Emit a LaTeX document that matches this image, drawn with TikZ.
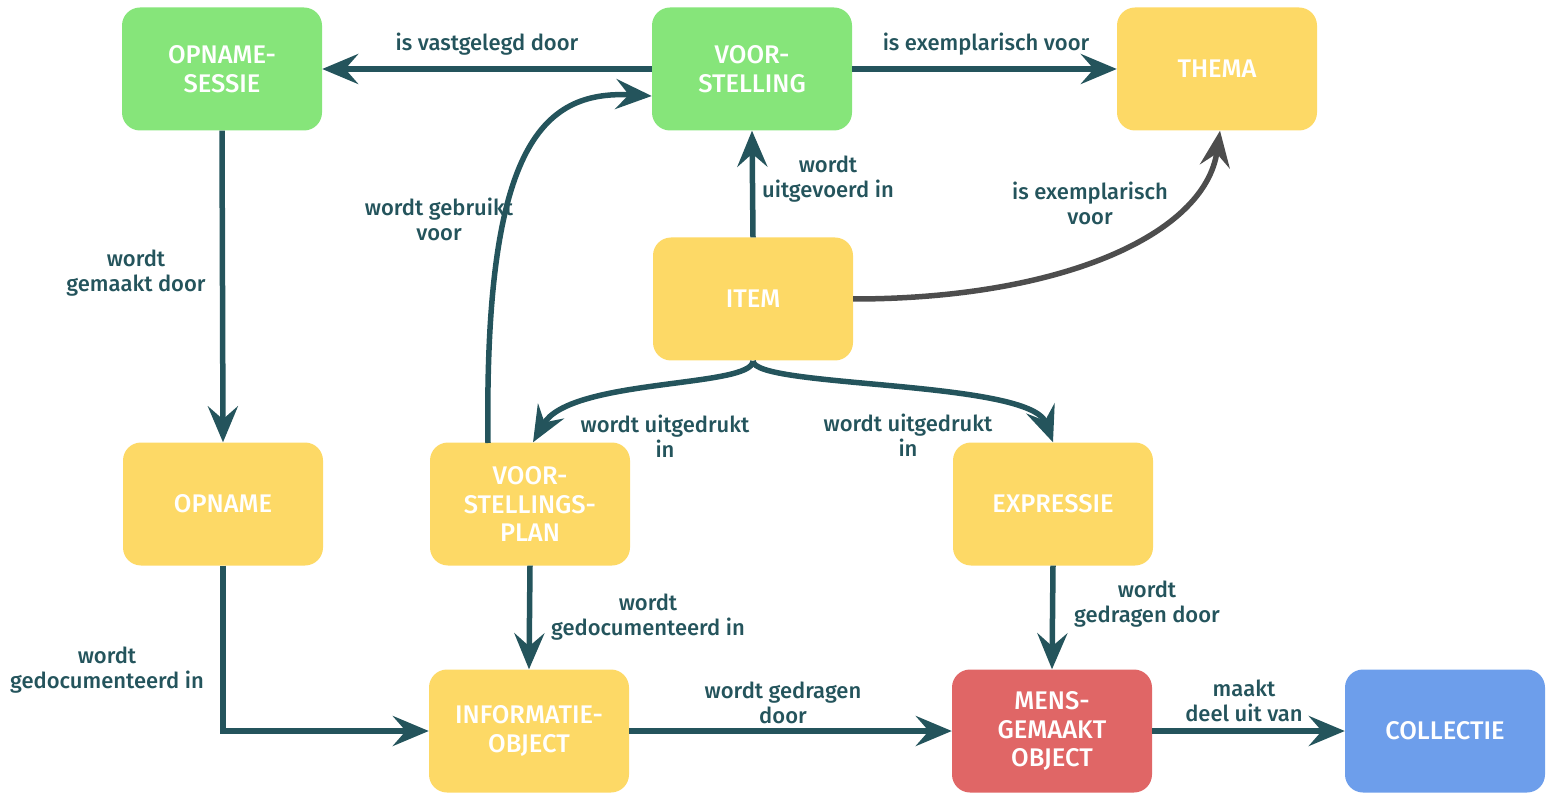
\documentclass[tikz,border=0pt]{standalone}
\usepackage{fontspec}
\setmainfont{Fira Sans}[UprightFont=* Medium, BoldFont=* SemiBold]
\usetikzlibrary{arrows.meta}
\definecolor{cgreen}{HTML}{86E57A}
\definecolor{cyellow}{HTML}{FDD966}
\definecolor{cred}{HTML}{E06666}
\definecolor{cblue}{HTML}{6D9EEB}
\definecolor{cteal}{HTML}{24545C}
\definecolor{cgray}{HTML}{4D4D4D}
\tikzset{
  box/.style={rounded corners=18pt, minimum width=200pt, minimum height=123pt, align=center, text=white, inner sep=0pt,
    font=\fontsize{25.5pt}{28.5pt}\selectfont},
  conn/.style={line width=5.5pt, draw=cteal, -{Stealth[length=36pt,width=30pt,inset=13pt]}},
  gconn/.style={conn, draw=cgray},
  lbl/.style={text=cteal, align=center, font=\fontsize{22pt}{25pt}\selectfont}
}
\begin{document}
\begin{tikzpicture}[x=1pt,y=-1pt]
\useasboundingbox (0,0) rectangle (1548,794);
% nodes
\node[box, fill=cgreen] (sess) at (222,69) {OPNAME-\\SESSIE};
\node[box, fill=cgreen] (vs) at (752,69) {VOOR-\\STELLING};
\node[box, fill=cyellow] (thema) at (1217,69) {THEMA};
\node[box, fill=cyellow] (item) at (753,299) {ITEM};
\node[box, fill=cyellow] (opname) at (223,504) {OPNAME};
\node[box, fill=cyellow] (vsplan) at (530,504) {VOOR-\\STELLINGS-\\PLAN};
\node[box, fill=cyellow] (expr) at (1053,504) {EXPRESSIE};
\node[box, fill=cyellow] (info) at (529,731) {INFORMATIE-\\OBJECT};
\node[box, fill=cred] (mens) at (1052,731) {MENS-\\GEMAAKT\\OBJECT};
\node[box, fill=cblue] (coll) at (1445,731) {COLLECTIE};
% coordinates
\coordinate (itemb) at (753,361);
\coordinate (vsplant) at (488,443);
% connectors
\draw[conn] (vs.west) -- (sess.east);
\draw[conn] (vs.east) -- (thema.west);
\draw[conn] (item.north) -- (vs.south);
\draw[gconn] (item.east) .. controls (1060,299) and (1205,235) .. ([xshift=3pt]thema.south);
\draw[conn] (sess.south) -- (opname.north);
\draw[conn] (vsplant) .. controls (484,150) and (540,90) .. ([yshift=-27pt]vs.west);
\draw[conn] (itemb) .. controls (752,388) and (570,378) .. ([xshift=3pt]vsplan.north);
\draw[conn] (itemb) .. controls (754,388) and (1030,380) .. (expr.north);
\draw[conn] (vsplan.south) -- (info.north);
\draw[conn] (opname.south) |- (info.west);
\draw[conn] (info.east) -- (mens.west);
\draw[conn] (expr.south) -- (mens.north);
\draw[conn] (mens.east) -- (coll.west);
% labels
\node[lbl] (l1) at (487,44) {is vastgelegd door};
\node[lbl] (l2) at (986,44) {is exemplarisch voor};
\node[lbl] (l3) at (828,179) {wordt\\uitgevoerd in};
\node[lbl] (l4) at (1090,203) {is exemplarisch\\voor};
\node[lbl] (l5) at (136,273) {wordt\\gemaakt door};
\node[lbl] (l6) at (439,219) {wordt gebruikt\\voor};
\node[lbl] (l7) at (665,436) {wordt uitgedrukt\\in};
\node[lbl] (l8) at (908,435) {wordt uitgedrukt\\in};
\node[lbl] (l9) at (648,617) {wordt\\gedocumenteerd in};
\node[lbl] (l10) at (107,670) {wordt\\gedocumenteerd in};
\node[lbl] (l11) at (783,703) {wordt gedragen\\door};
\node[lbl] (l12) at (1147,604) {wordt\\gedragen door};
\node[lbl] (l13) at (1244,701) {maakt\\deel uit van};
\end{tikzpicture}
\end{document}
